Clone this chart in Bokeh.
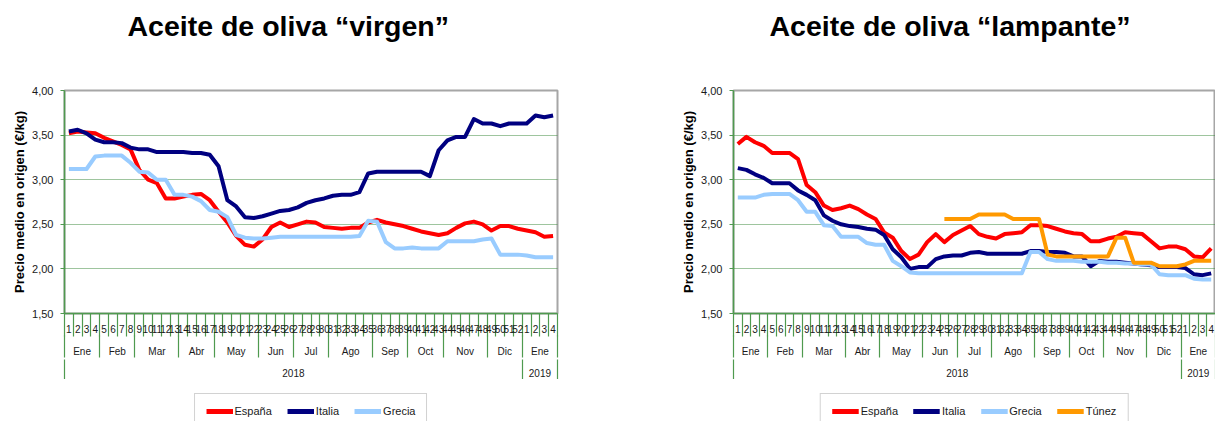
import math
from bokeh.plotting import figure
from bokeh.models import (Range1d, LinearAxis, FixedTicker, Grid, Legend, LegendItem)
from bokeh.layouts import row, column
from bokeh.embed import file_html
from bokeh.resources import INLINE

NAN = float("nan")

# ---------------- data ----------------
weeks = [str(i) for i in range(1, 53)] + ["1", "2", "3", "4"]
months = ["Ene", "Feb", "Mar", "Abr", "May", "Jun", "Jul", "Ago", "Sep", "Oct", "Nov", "Dic", "Ene"]
month_weeks = [4, 4, 5, 4, 5, 4, 4, 5, 4, 4, 5, 4, 4]
years = ["2018", "2019"]
year_weeks = [52, 4]
y_ticks = [1.5, 2.0, 2.5, 3.0, 3.5, 4.0]

series_names_virgen = ["España", "Italia", "Grecia"]
series_names_lampante = ["España", "Italia", "Grecia", "Túnez"]

virgen_espana = [3.52, 3.54, 3.53, 3.52, 3.47, 3.43, 3.39, 3.34, 3.11, 3.00,
                 2.96, 2.79, 2.79, 2.81, 2.83, 2.84, 2.77, 2.64, 2.52, 2.37,
                 2.27, 2.25, 2.33, 2.47, 2.52, 2.47, 2.50, 2.53, 2.52, 2.47,
                 2.46, 2.45, 2.46, 2.46, 2.52, 2.55, 2.52, 2.50, 2.48, 2.45,
                 2.42, 2.40, 2.38, 2.40, 2.46, 2.51, 2.53, 2.50, 2.43, 2.48,
                 2.48, 2.45, 2.43, 2.41, 2.36, 2.37]
virgen_italia = [3.54, 3.56, 3.52, 3.45, 3.42, 3.42, 3.41, 3.36, 3.34, 3.34,
                 3.31, 3.31, 3.31, 3.31, 3.30, 3.30, 3.28, 3.15, 2.77, 2.70,
                 2.58, 2.57, 2.59, 2.62, 2.65, 2.66, 2.69, 2.74, 2.77, 2.79,
                 2.82, 2.83, 2.83, 2.86, 3.07, 3.09, 3.09, 3.09, 3.09, 3.09,
                 3.09, 3.04, 3.33, 3.44, 3.48, 3.48, 3.68, 3.63, 3.63, 3.60,
                 3.63, 3.63, 3.63, 3.72, 3.70, 3.72]
virgen_grecia = [3.12, 3.12, 3.12, 3.26, 3.27, 3.27, 3.27, 3.19, 3.09, 3.08,
                 3.00, 3.00, 2.83, 2.83, 2.81, 2.76, 2.66, 2.64, 2.58, 2.38,
                 2.35, 2.34, 2.34, 2.35, 2.36, 2.36, 2.36, 2.36, 2.36, 2.36,
                 2.36, 2.36, 2.36, 2.37, 2.54, 2.53, 2.30, 2.23, 2.23, 2.24,
                 2.23, 2.23, 2.23, 2.31, 2.31, 2.31, 2.31, 2.33, 2.34, 2.16,
                 2.16, 2.16, 2.15, 2.13, 2.13, 2.13]

lampante_espana = [3.40, 3.48, 3.42, 3.38, 3.30, 3.30, 3.30, 3.23, 2.94, 2.86,
                   2.71, 2.66, 2.68, 2.71, 2.67, 2.61, 2.56, 2.41, 2.35, 2.20,
                   2.11, 2.16, 2.30, 2.39, 2.30, 2.38, 2.43, 2.48, 2.39, 2.36,
                   2.34, 2.39, 2.40, 2.41, 2.49, 2.49, 2.48, 2.45, 2.42, 2.40,
                   2.39, 2.31, 2.31, 2.34, 2.36, 2.41, 2.40, 2.39, 2.31, 2.23,
                   2.25, 2.25, 2.22, 2.14, 2.13, 2.23]
lampante_italia = [3.13, 3.11, 3.06, 3.02, 2.96, 2.96, 2.96, 2.88, 2.83, 2.77,
                   2.60, 2.54, 2.50, 2.48, 2.47, 2.45, 2.44, 2.38, 2.22, 2.13,
                   2.00, 2.02, 2.02, 2.11, 2.14, 2.15, 2.15, 2.18, 2.19, 2.17,
                   2.17, 2.17, 2.17, 2.17, 2.20, 2.20, 2.19, 2.19, 2.18, 2.14,
                   2.14, 2.03, 2.09, 2.08, 2.08, 2.07, 2.06, 2.05, 2.04, 2.02,
                   2.02, 2.02, 2.01, 1.94, 1.93, 1.95]
lampante_grecia = [2.80, 2.80, 2.80, 2.83, 2.84, 2.84, 2.84, 2.77, 2.64, 2.64,
                   2.49, 2.48, 2.36, 2.36, 2.36, 2.29, 2.27, 2.27, 2.09, 2.03,
                   1.96, 1.95, 1.95, 1.95, 1.95, 1.95, 1.95, 1.95, 1.95, 1.95,
                   1.95, 1.95, 1.95, 1.95, 2.19, 2.19, 2.11, 2.09, 2.09, 2.09,
                   2.08, 2.08, 2.08, 2.07, 2.07, 2.06, 2.06, 2.05, 2.05, 1.94,
                   1.93, 1.93, 1.93, 1.89, 1.88, 1.88]
lampante_tunez = [NAN] * 24 + [2.56, 2.56, 2.56, 2.56, 2.61, 2.61, 2.61, 2.61,
                               2.56, 2.56, 2.56, 2.56, 2.16, 2.14, 2.14, 2.14,
                               2.14, 2.14, 2.14, 2.14, 2.35, 2.35, 2.07, 2.07,
                               2.07, 2.03, 2.03, 2.03, 2.05, 2.09, 2.09, 2.09]

colors = {"España": "#ff0000", "Italia": "#000080", "Grecia": "#99ccff", "Túnez": "#ff9900"}

# ---------------- styling ----------------
GREEN = "#4f9a4f"
GRID_GREEN = "#3d8b3d"
OUTLINE = "#a6a6a6"
FONT = "Liberation Sans"
HEAD_H = 52
CHART_H = 327
LEG_H = 42


def bounds_from(counts):
    b = [0]
    for c in counts:
        b.append(b[-1] + c)
    return b


def blank_fig(width, height, mb_left, mb_right, title=None):
    return figure(width=width, height=height, x_range=Range1d(0, 1), y_range=Range1d(0, 1),
                  x_axis_type=None, y_axis_type=None, output_backend="svg", toolbar_location=None,
                  title=title, min_border_left=mb_left, min_border_right=mb_right,
                  min_border_top=0, min_border_bottom=0, outline_line_color=None,
                  background_fill_color="white", border_fill_color="white")


def make_chart(title_text, names, values, width, mb_left, mb_right, title_offset):
    n = len(weeks)

    # header with the title
    head = blank_fig(width, HEAD_H, mb_left, mb_right, title=title_text)
    head.title.align = "left"
    head.title.offset = title_offset
    head.title.standoff = 15
    head.title.text_font = FONT
    head.title.text_font_size = "28.5px"
    head.title.text_font_style = "bold"
    head.title.text_color = "#000000"

    p = figure(width=width, height=CHART_H, x_range=Range1d(0, n), y_range=Range1d(1.5, 4.0),
               x_axis_type=None, y_axis_type=None, output_backend="svg", toolbar_location=None,
               min_border_left=mb_left, min_border_right=mb_right, min_border_top=38,
               min_border_bottom=0, outline_line_color=OUTLINE, outline_line_width=2,
               background_fill_color="white", border_fill_color="white")

    # y axis
    yax = LinearAxis(ticker=FixedTicker(ticks=y_ticks, minor_ticks=[]),
                     major_label_overrides={t: f"{t:.2f}".replace(".", ",") for t in y_ticks},
                     axis_label="Precio medio en origen (€/kg)",
                     axis_label_text_font=FONT, axis_label_text_font_size="13px",
                     axis_label_text_font_style="bold", axis_label_text_color="#000000",
                     axis_label_standoff=2,
                     major_label_text_font=FONT, major_label_text_font_size="11px",
                     major_label_text_color="#1a1a1a", major_label_standoff=7,
                     axis_line_color=GREEN, axis_line_width=1.5,
                     major_tick_line_color=GREEN, major_tick_out=4, major_tick_in=0,
                     minor_tick_line_color=None)
    p.add_layout(yax, "left")
    p.add_layout(Grid(dimension=1, ticker=FixedTicker(ticks=[2.0, 2.5, 3.0, 3.5]),
                      grid_line_color=GRID_GREEN, grid_line_dash="1 1", grid_line_width=1))

    # x axes: weeks / months / years; boundaries drawn as downward minor ticks
    centers = [i + 0.5 for i in range(n)]
    wk_bounds = list(range(n + 1))
    mb = bounds_from(month_weeks)
    m_centers = [(mb[i] + mb[i + 1]) / 2 for i in range(len(months))]
    yb = bounds_from(year_weeks)
    y_centers = [(yb[i] + yb[i + 1]) / 2 for i in range(len(years))]

    def cat_axis(ticks, labels, minor, minor_out, standoff, line_color):
        return LinearAxis(ticker=FixedTicker(ticks=ticks, minor_ticks=minor),
                          major_label_overrides={t: l for t, l in zip(ticks, labels)},
                          major_label_text_font=FONT, major_label_text_font_size="10px",
                          major_label_text_color="#1a1a1a", major_label_standoff=standoff,
                          major_tick_line_color=None, major_tick_out=0, major_tick_in=0,
                          minor_tick_line_color=GREEN, minor_tick_line_width=1.2,
                          minor_tick_out=minor_out, minor_tick_in=0,
                          axis_line_color=line_color, axis_line_width=1.5)

    p.add_layout(cat_axis(centers, weeks, wk_bounds, 23, -12, GREEN), "below")
    p.add_layout(cat_axis(m_centers, months, mb, 22, -12, None), "below")
    p.add_layout(cat_axis(y_centers, years, yb, 23, -14, None), "below")

    for name, vals in zip(names, values):
        p.line(centers, vals, line_width=4, line_color=colors[name], line_join="round")

    # legend in its own strip below (its lines fall outside that strip's ranges)
    lf = blank_fig(width, LEG_H, mb_left, mb_right)
    items = []
    for name, vals in zip(names, values):
        r = lf.line(centers, vals, line_width=5, line_color=colors[name])
        items.append(LegendItem(label=name, renderers=[r]))
    legend = Legend(items=items, orientation="horizontal", location="top_center",
                    border_line_color=OUTLINE, border_line_width=1, padding=11, margin=14,
                    spacing=15, glyph_width=27, glyph_height=12, label_height=12,
                    label_standoff=2, label_text_font=FONT, label_text_font_size="11px",
                    label_text_color="#1a1a1a")
    lf.add_layout(legend)
    return column(head, p, lf, spacing=0)


c1 = make_chart("Aceite de oliva “virgen”", series_names_virgen,
                [virgen_espana, virgen_italia, virgen_grecia],
                width=618, mb_left=64, mb_right=61, title_offset=63)
c2 = make_chart("Aceite de oliva “lampante”", series_names_lampante,
                [lampante_espana, lampante_italia, lampante_grecia, lampante_tunez],
                width=597, mb_left=115, mb_right=0, title_offset=36)

layout = row(c1, c2, spacing=0)
open("out.html", "w").write(file_html(layout, INLINE))
